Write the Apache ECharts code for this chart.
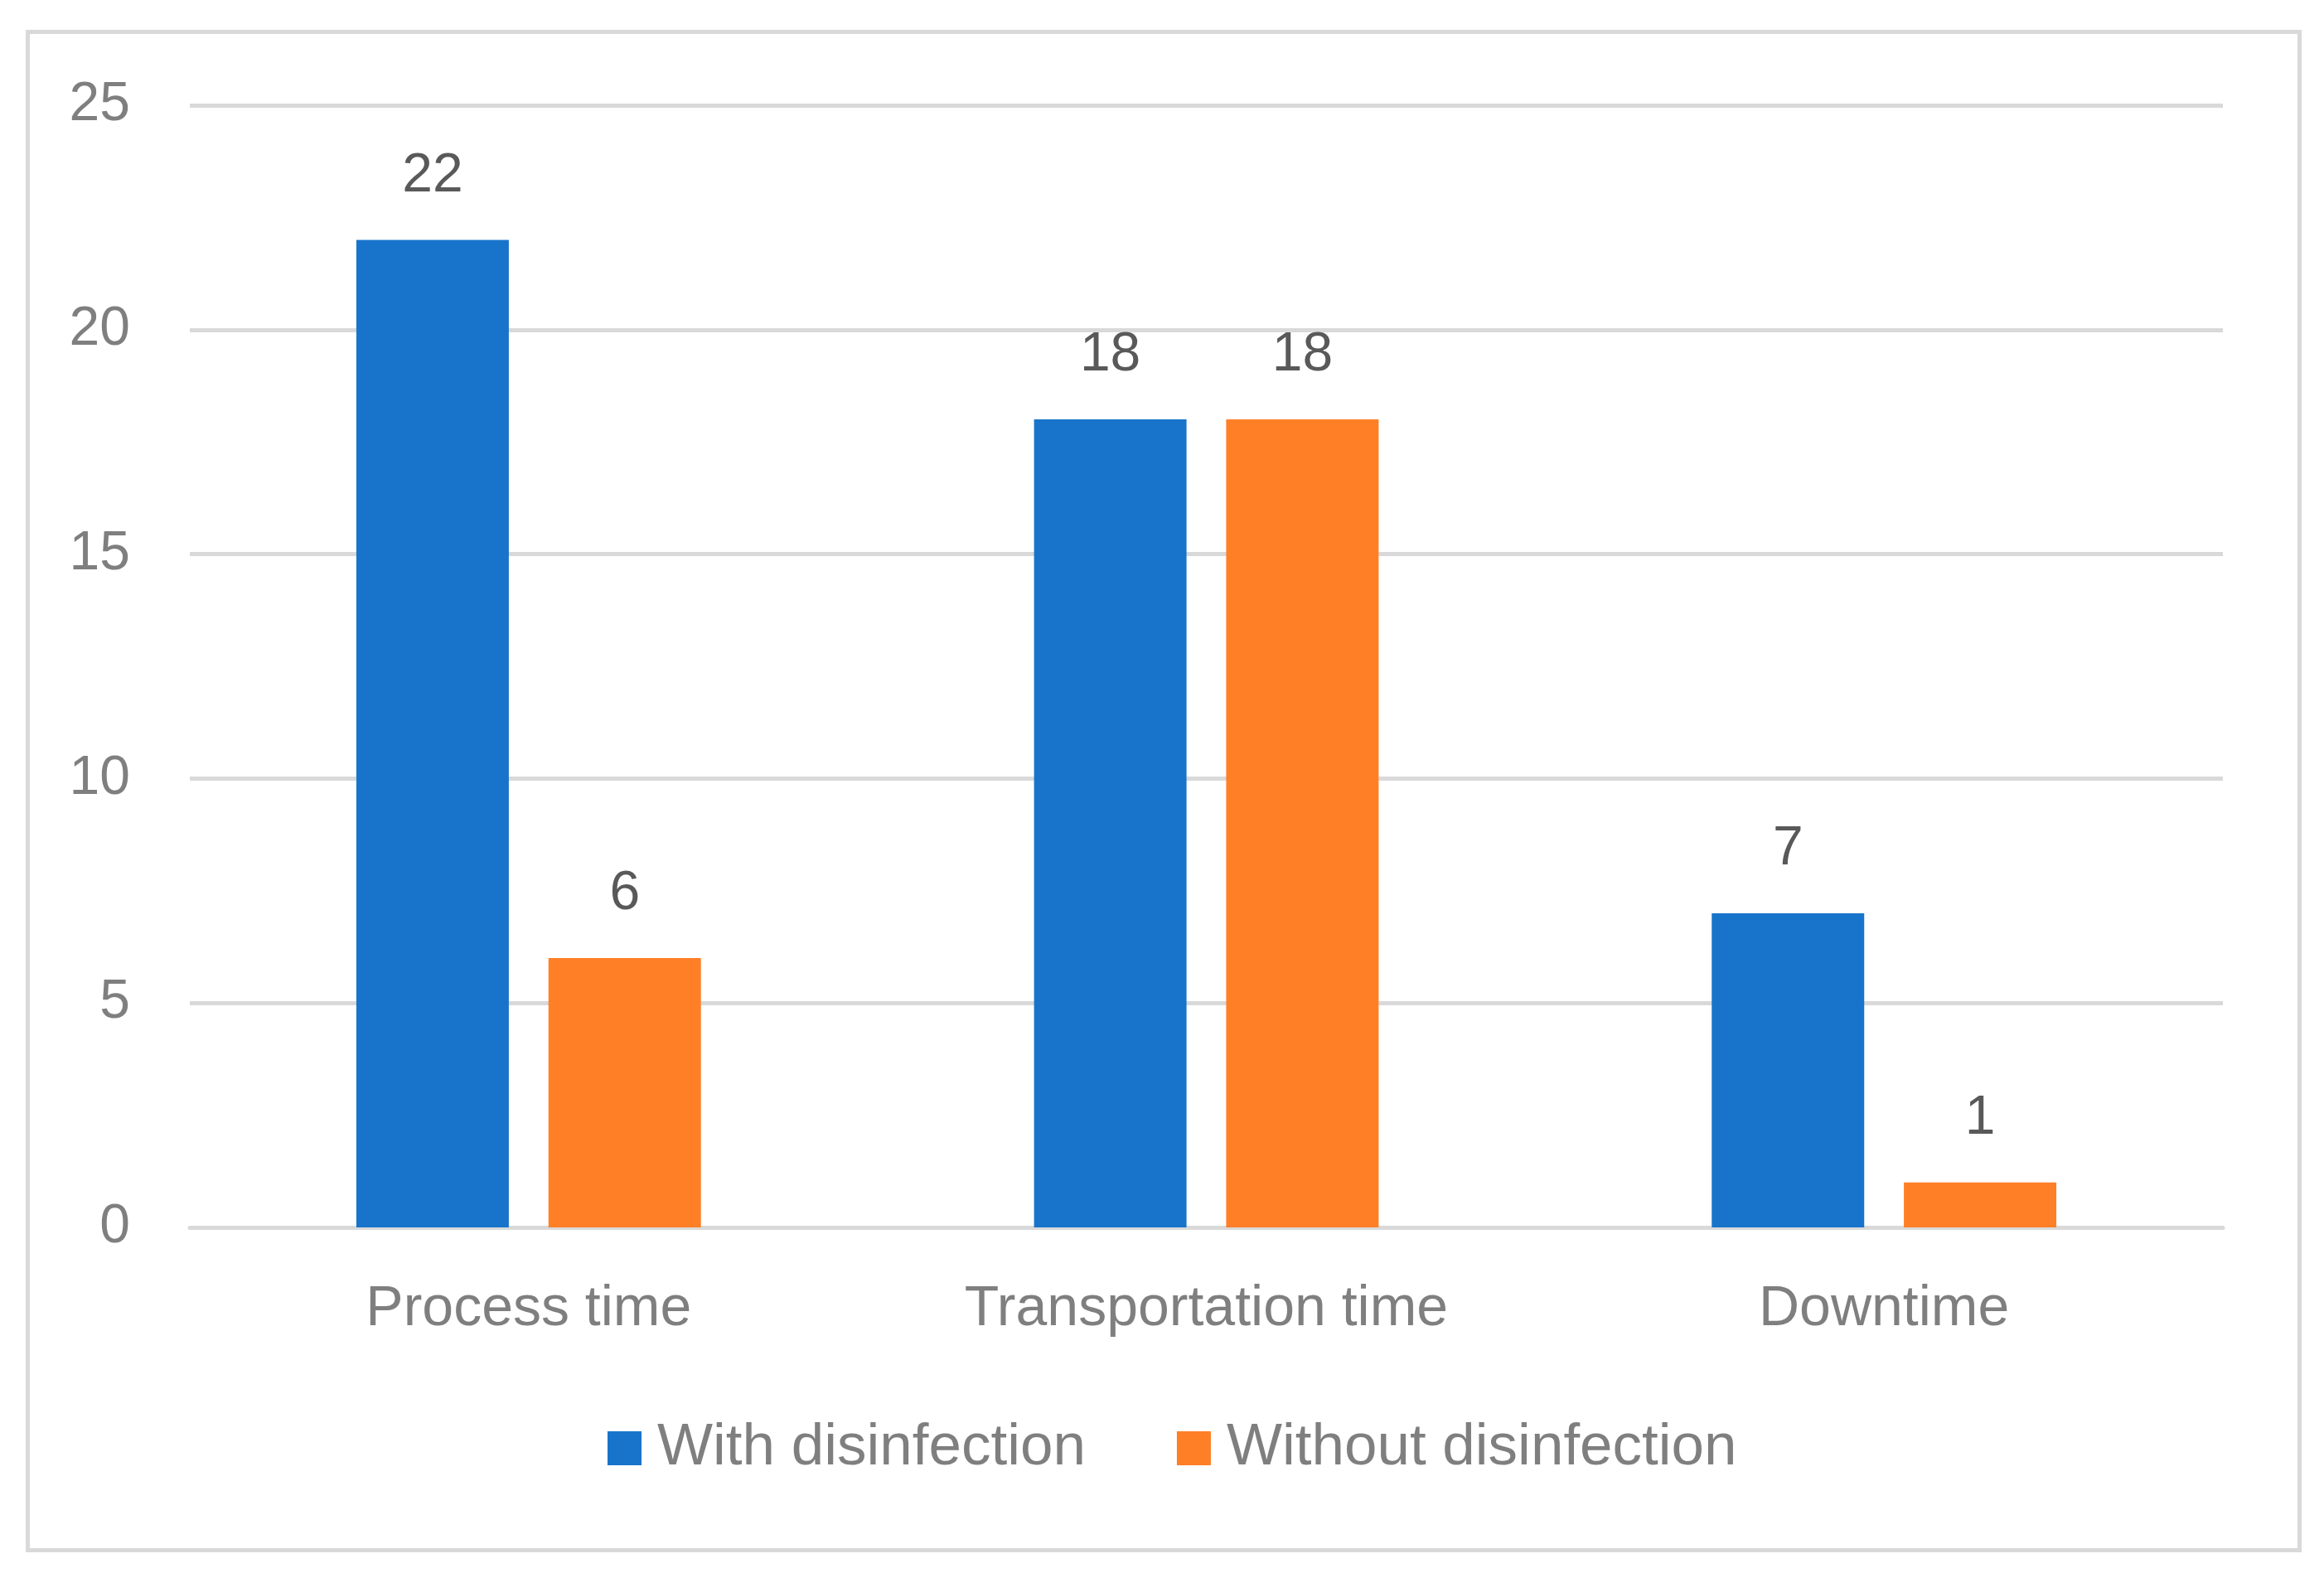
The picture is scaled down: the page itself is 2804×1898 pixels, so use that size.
<!DOCTYPE html>
<html><head><meta charset="utf-8">
<script src="https://cdn.jsdelivr.net/npm/echarts@6/dist/echarts.min.js"></script>
<style>html,body{margin:0;padding:0;background:#fff}#c{width:2804px;height:1898px}</style>
</head><body><div id="c"></div>
<script>
const categories = ['Process time', 'Transportation time', 'Downtime'];
const withDisinfection = [22, 18, 7];
const withoutDisinfection = [6, 18, 1];
const yTicks = [0, 5, 10, 15, 20, 25];

const FONT = "'Liberation Sans', Arial, sans-serif";
const chart = echarts.init(document.getElementById('c'), null, {renderer: 'canvas'});
chart.setOption({
  animation: false,
  backgroundColor: '#ffffff',
  textStyle: {fontFamily: FONT},
  graphic: [{
    type: 'rect', left: 31, top: 36, shape: {x: 0, y: 0, width: 2741, height: 1832},
    style: {fill: 'none', stroke: '#d9d9d9', lineWidth: 5}, silent: true
  }],
  grid: {left: 229, right: 122, top: 127, bottom: 417, containLabel: false},
  legend: {
    data: ['With disinfection', 'Without disinfection'],
    left: 728, top: 1707,
    itemWidth: 41, itemHeight: 41, itemGap: 110,
    icon: 'rect',
    textStyle: {fontSize: 71, color: '#7f7f7f', fontFamily: FONT, padding: [0, 0, 0, 14]}
  },
  xAxis: {
    type: 'category', data: categories,
    axisLine: {show: true, lineStyle: {color: '#d9d9d9', width: 5}},
    axisTick: {show: false},
    axisLabel: {fontSize: 68, color: '#7f7f7f', margin: 65, fontFamily: FONT}
  },
  yAxis: {
    type: 'value', min: yTicks[0], max: yTicks[yTicks.length - 1], interval: 5,
    axisLine: {show: false}, axisTick: {show: false},
    splitLine: {lineStyle: {color: '#d9d9d9', width: 5}},
    axisLabel: {fontSize: 66, color: '#7f7f7f', margin: 72, fontFamily: FONT}
  },
  series: [
    {
      name: 'With disinfection', type: 'bar', data: withDisinfection,
      barWidth: '22.5%', barGap: '26%',
      itemStyle: {color: '#1874ca'},
      label: {show: true, position: 'top', distance: 44, fontSize: 66, color: '#595959', fontFamily: FONT}
    },
    {
      name: 'Without disinfection', type: 'bar', data: withoutDisinfection,
      barWidth: '22.5%', barGap: '26%',
      itemStyle: {color: '#ff7f27'},
      label: {show: true, position: 'top', distance: 44, fontSize: 66, color: '#595959', fontFamily: FONT}
    }
  ]
});
</script></body></html>
